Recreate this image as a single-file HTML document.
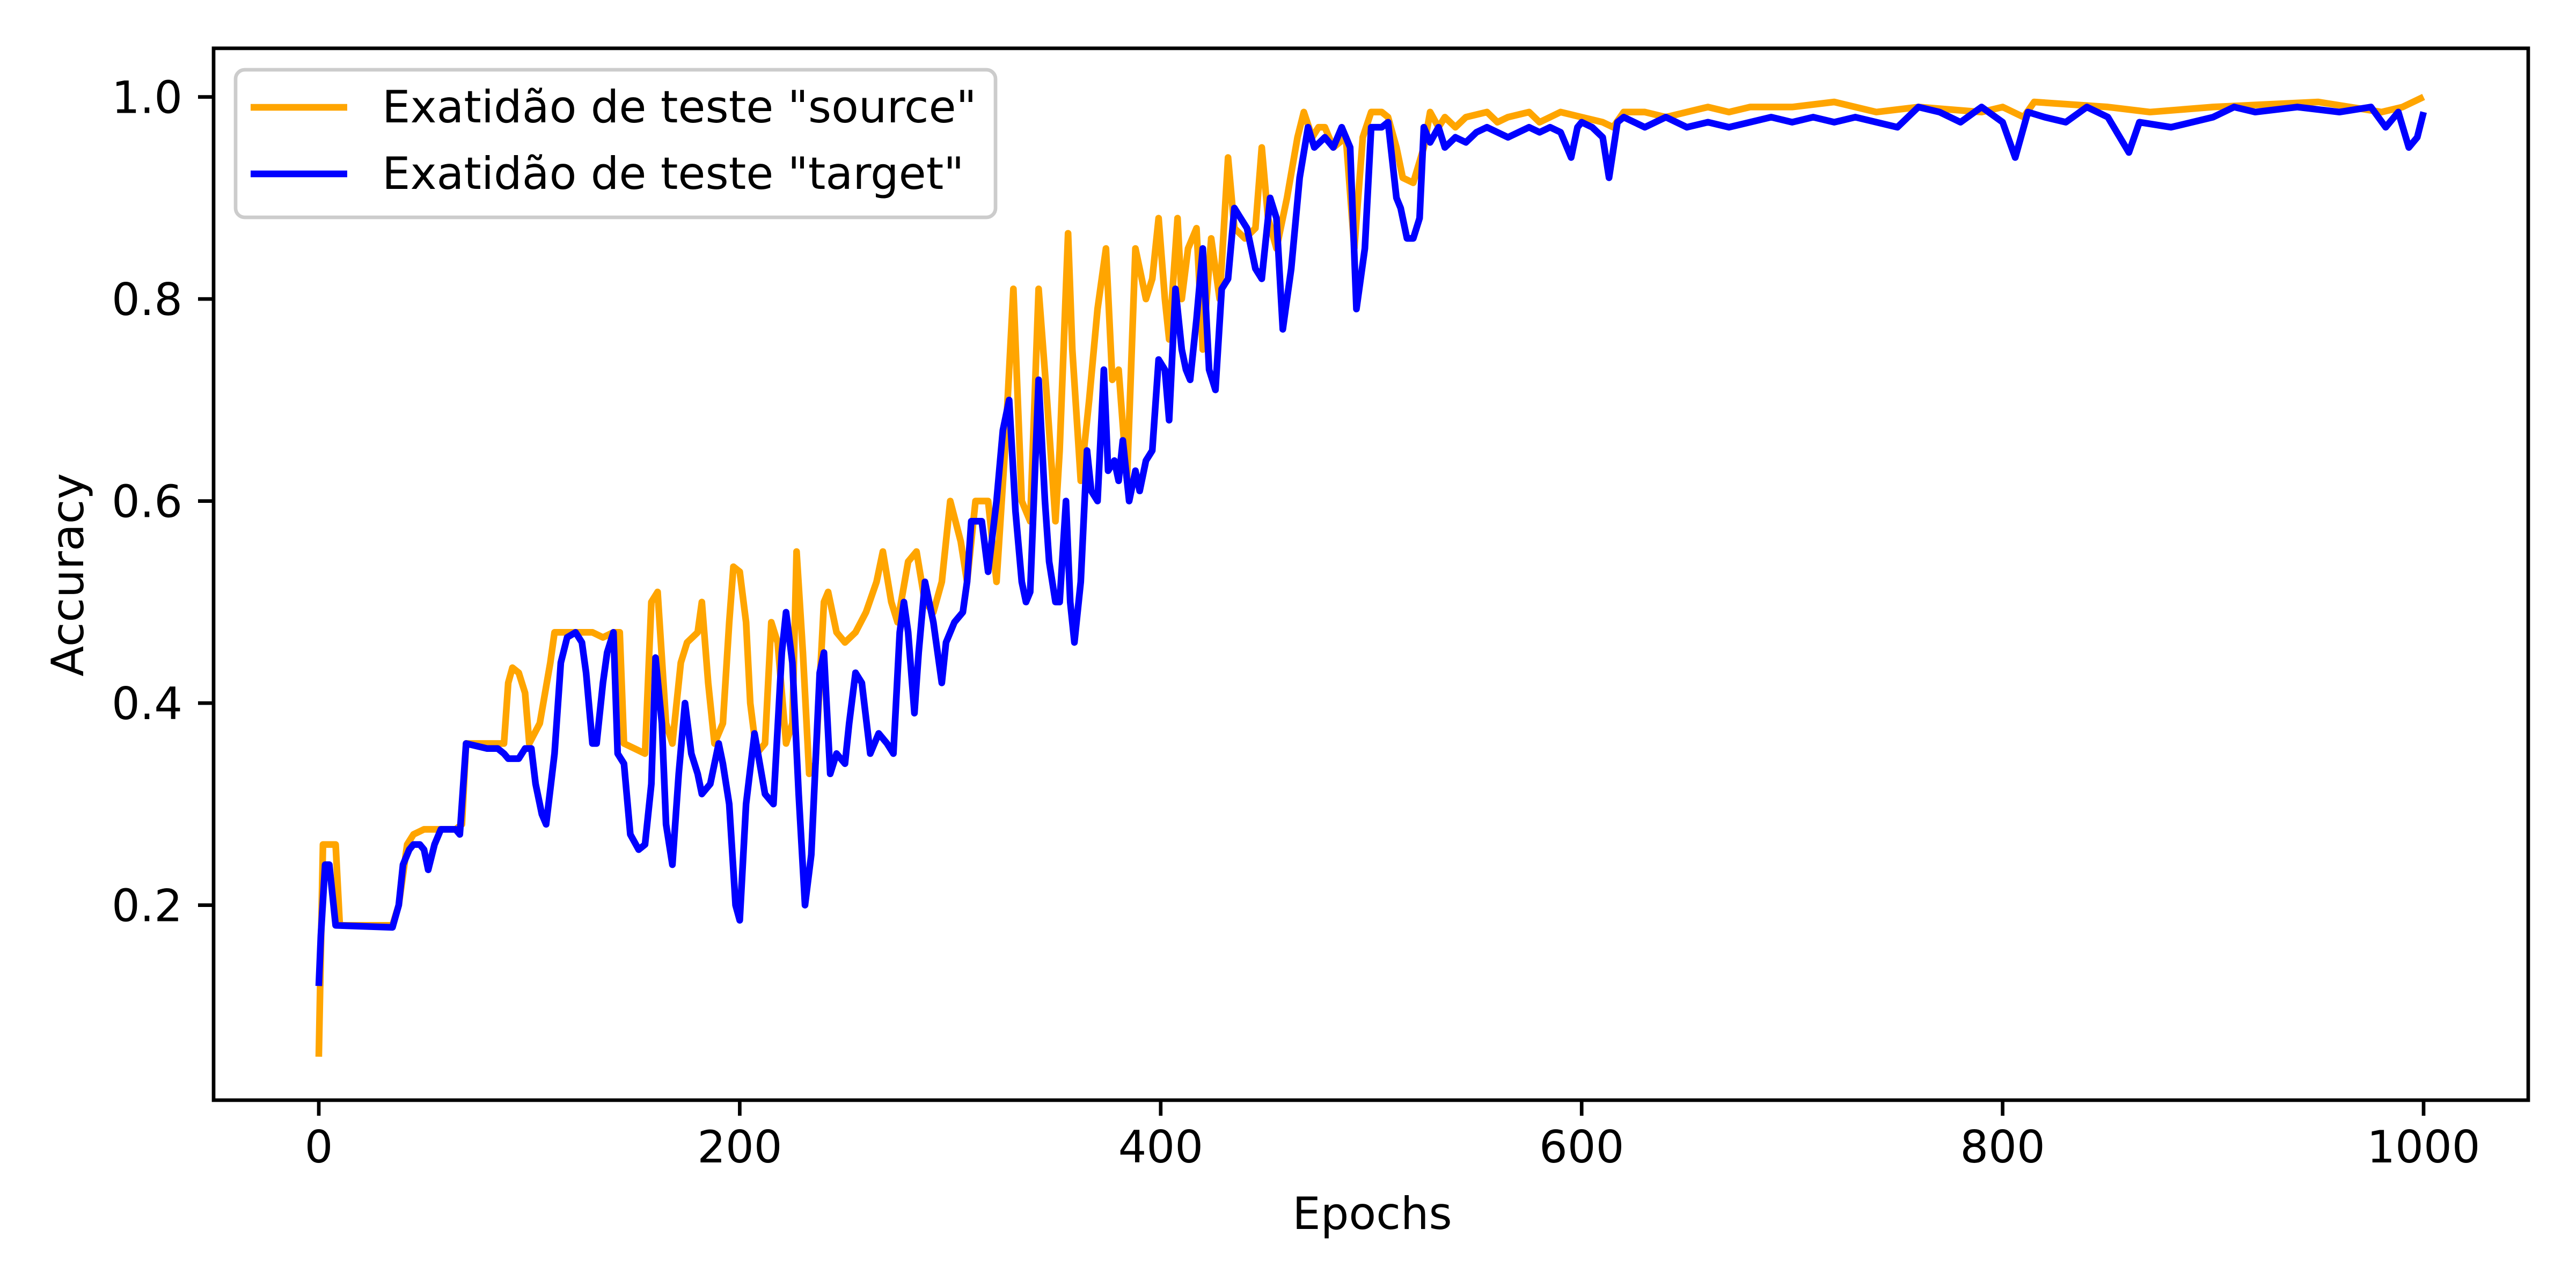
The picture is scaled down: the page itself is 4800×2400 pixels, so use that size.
<!DOCTYPE html>
<html><head><meta charset="utf-8"><style>
html,body{margin:0;padding:0;background:#fff;}
svg{display:block;font-family:"DejaVu Sans","Liberation Sans",sans-serif;}
</style></head><body>
<svg id="chart" width="4800" height="2400" viewBox="0 0 4800 2400" xmlns="http://www.w3.org/2000/svg">
<rect x="0" y="0" width="4800" height="2400" fill="#fff"/>
<g id="series"></g>
<g id="axes"></g>
<text x="2557" y="2290" font-size="83" text-anchor="middle">Epochs</text>
<text x="0" y="0" font-size="83" text-anchor="middle" transform="translate(155,1071) rotate(-90)">Accuracy</text>
<g>
<rect x="439" y="130" width="1416" height="275" rx="17" fill="#fff" stroke="#cccccc" stroke-width="6.7"/>
<line x1="467" y1="200" x2="647" y2="200" stroke="#FFA500" stroke-width="12.5"/>
<text x="712" y="228" font-size="83">Exatidão de teste "source"</text>
<line x1="467" y1="324" x2="647" y2="324" stroke="#0000FF" stroke-width="12.5"/>
<text x="712" y="352" font-size="83">Exatidão de teste "target"</text>
</g>
</svg>
<script>
const sourceEpochs=[0,2,8,10,35,38,42,45,50,55,60,65,68,70,80,88,90,92,95,98,100,105,110,112,120,130,135,140,143,145,150,155,158,161,165,168,172,175,180,182,185,188,192,195,197,200,203,205,208,212,215,218,222,225,227,230,233,236,240,242,246,250,255,260,265,268,272,275,280,284,288,292,296,300,305,308,312,318,322,326,330,334,338,342,346,350,352,356,358,362,366,370,374,377,380,384,388,390,393,396,399,402,404,408,410,413,417,420,424,428,432,435,440,445,448,451,455,460,465,468,472,475,478,482,488,492,496,500,505,508,512,515,520,525,528,532,535,540,545,555,560,565,575,580,590,600,610,615,620,630,640,650,660,670,680,700,720,740,760,790,800,810,815,850,870,900,950,980,990,1000];
const sourceValues=[0.05,0.26,0.26,0.18,0.18,0.2,0.26,0.27,0.275,0.275,0.275,0.275,0.28,0.36,0.36,0.36,0.42,0.435,0.43,0.41,0.36,0.38,0.44,0.47,0.47,0.47,0.465,0.47,0.47,0.36,0.355,0.35,0.5,0.51,0.38,0.36,0.44,0.46,0.47,0.5,0.42,0.36,0.38,0.48,0.535,0.53,0.48,0.4,0.35,0.36,0.48,0.46,0.36,0.38,0.55,0.45,0.33,0.34,0.5,0.51,0.47,0.46,0.47,0.49,0.52,0.55,0.5,0.48,0.54,0.55,0.5,0.49,0.52,0.6,0.56,0.52,0.6,0.6,0.52,0.65,0.81,0.6,0.58,0.81,0.7,0.58,0.65,0.865,0.75,0.62,0.7,0.79,0.85,0.72,0.73,0.62,0.85,0.83,0.8,0.82,0.88,0.8,0.76,0.88,0.8,0.85,0.87,0.75,0.86,0.8,0.94,0.87,0.86,0.87,0.95,0.88,0.85,0.9,0.96,0.985,0.96,0.97,0.97,0.95,0.96,0.85,0.96,0.985,0.985,0.98,0.95,0.92,0.915,0.95,0.985,0.97,0.98,0.97,0.98,0.985,0.975,0.98,0.985,0.975,0.985,0.98,0.975,0.97,0.985,0.985,0.98,0.985,0.99,0.985,0.99,0.99,0.995,0.985,0.99,0.985,0.99,0.98,0.995,0.99,0.985,0.99,0.995,0.985,0.99,1.0];
const targetEpochs=[0,1,3,5,7,8,35,38,40,43,45,48,50,52,55,58,65,67,70,80,85,88,90,95,98,101,103,106,108,112,115,118,122,125,127,130,132,135,137,140,142,145,148,152,155,158,160,163,165,168,171,174,177,180,182,186,190,192,195,198,200,203,207,212,216,220,222,225,228,231,234,238,240,243,246,250,252,255,258,262,266,270,273,276,278,280,283,285,288,292,296,298,302,306,308,310,315,318,322,325,328,331,334,336,338,342,345,347,350,352,355,357,359,362,365,367,370,373,375,378,380,382,385,388,390,393,396,399,402,404,407,410,412,414,417,420,423,426,429,432,435,438,441,445,448,452,455,458,462,466,470,473,478,482,486,490,493,497,500,505,508,512,514,517,520,523,525,528,532,535,540,545,550,555,560,565,570,575,580,585,590,595,598,600,605,610,613,617,620,630,640,650,660,670,680,690,700,710,720,730,740,750,760,770,780,790,800,806,812,820,830,840,850,860,865,880,900,910,920,940,960,975,982,988,993,997,1000];
const targetValues=[0.12,0.17,0.24,0.24,0.2,0.18,0.178,0.2,0.24,0.255,0.26,0.26,0.255,0.235,0.26,0.275,0.275,0.27,0.36,0.355,0.355,0.35,0.345,0.345,0.355,0.355,0.32,0.29,0.28,0.35,0.44,0.465,0.47,0.46,0.43,0.36,0.36,0.42,0.45,0.47,0.35,0.34,0.27,0.255,0.26,0.32,0.445,0.38,0.28,0.24,0.33,0.4,0.35,0.33,0.31,0.32,0.36,0.34,0.3,0.2,0.185,0.3,0.37,0.31,0.3,0.45,0.49,0.44,0.31,0.2,0.25,0.43,0.45,0.33,0.35,0.34,0.38,0.43,0.42,0.35,0.37,0.36,0.35,0.47,0.5,0.47,0.39,0.45,0.52,0.48,0.42,0.46,0.48,0.49,0.52,0.58,0.58,0.53,0.6,0.67,0.7,0.59,0.52,0.5,0.51,0.72,0.6,0.54,0.5,0.5,0.6,0.5,0.46,0.52,0.65,0.61,0.6,0.73,0.63,0.64,0.62,0.66,0.6,0.63,0.61,0.64,0.65,0.74,0.73,0.68,0.81,0.75,0.73,0.72,0.78,0.85,0.73,0.71,0.81,0.82,0.89,0.88,0.87,0.83,0.82,0.9,0.88,0.77,0.83,0.92,0.97,0.95,0.96,0.95,0.97,0.95,0.79,0.85,0.97,0.97,0.975,0.9,0.89,0.86,0.86,0.88,0.97,0.955,0.97,0.95,0.96,0.955,0.965,0.97,0.965,0.96,0.965,0.97,0.965,0.97,0.965,0.94,0.97,0.975,0.97,0.96,0.92,0.975,0.98,0.97,0.98,0.97,0.975,0.97,0.975,0.98,0.975,0.98,0.975,0.98,0.975,0.97,0.99,0.985,0.975,0.99,0.975,0.94,0.985,0.98,0.975,0.99,0.98,0.945,0.975,0.97,0.98,0.99,0.985,0.99,0.985,0.99,0.97,0.985,0.95,0.96,0.985];
const xTicks=[0,200,400,600,800,1000];
const yTicks=[0.2,0.4,0.6,0.8,1.0];
const yTickLabels=["0.2","0.4","0.6","0.8","1.0"];

const NS="http://www.w3.org/2000/svg";
const plotL=398,plotR=4711,plotT=90,plotB=2050;
function xs(v){return 594+(v-0)*(4516-594)/1000;}
function ys(v){return 180.6-(v-1.0)*(180.6-1686.6)/(0.2-1.0)*-1;}
function ysy(v){return 1686.6+(v-0.2)*(180.6-1686.6)/0.8;}

const series=document.getElementById('series');
const clip=document.createElementNS(NS,'clipPath');clip.setAttribute('id','pc');
const cr=document.createElementNS(NS,'rect');cr.setAttribute('x',plotL);cr.setAttribute('y',plotT);cr.setAttribute('width',plotR-plotL);cr.setAttribute('height',plotB-plotT);
clip.appendChild(cr);document.getElementById('chart').appendChild(clip);
function drawLine(ex,vals,color,name){
  const p=document.createElementNS(NS,'polyline');
  p.setAttribute('points',ex.map((e,i)=>xs(e).toFixed(1)+','+ysy(vals[i]).toFixed(1)).join(' '));
  p.setAttribute('fill','none');p.setAttribute('stroke',color);p.setAttribute('stroke-width','12.5');
  p.setAttribute('stroke-linejoin','round');p.setAttribute('clip-path','url(#pc)');
  
  
  series.appendChild(p);
}
drawLine(sourceEpochs,sourceValues,'#FFA500','source-accuracy-line');
drawLine(targetEpochs,targetValues,'#0000FF','target-accuracy-line');

const axes=document.getElementById('axes');
const frame=document.createElementNS(NS,'rect');
frame.setAttribute('x',plotL);frame.setAttribute('y',plotT);frame.setAttribute('width',plotR-plotL);frame.setAttribute('height',plotB-plotT);
frame.setAttribute('fill','none');frame.setAttribute('stroke','#000');frame.setAttribute('stroke-width','6.7');


axes.appendChild(frame);
xTicks.forEach(t=>{
  const x=xs(t);
  const l=document.createElementNS(NS,'line');
  l.setAttribute('x1',x);l.setAttribute('x2',x);l.setAttribute('y1',plotB);l.setAttribute('y2',plotB+29);
  l.setAttribute('stroke','#000');l.setAttribute('stroke-width','6.7');
  
  
  axes.appendChild(l);
  const tx=document.createElementNS(NS,'text');
  tx.setAttribute('x',x);tx.setAttribute('y',2166);tx.setAttribute('font-size','83');tx.setAttribute('text-anchor','middle');
  tx.textContent=String(t);
  
  
  axes.appendChild(tx);
});
yTicks.forEach((t,i)=>{
  const y=ysy(t);
  const l=document.createElementNS(NS,'line');
  l.setAttribute('x1',plotL-29);l.setAttribute('x2',plotL);l.setAttribute('y1',y);l.setAttribute('y2',y);
  l.setAttribute('stroke','#000');l.setAttribute('stroke-width','6.7');
  
  
  axes.appendChild(l);
  const tx=document.createElementNS(NS,'text');
  tx.setAttribute('x',340);tx.setAttribute('y',y+30);tx.setAttribute('font-size','83');tx.setAttribute('text-anchor','end');
  tx.textContent=yTickLabels[i];
  
  
  axes.appendChild(tx);
});
</script>
</body></html>
